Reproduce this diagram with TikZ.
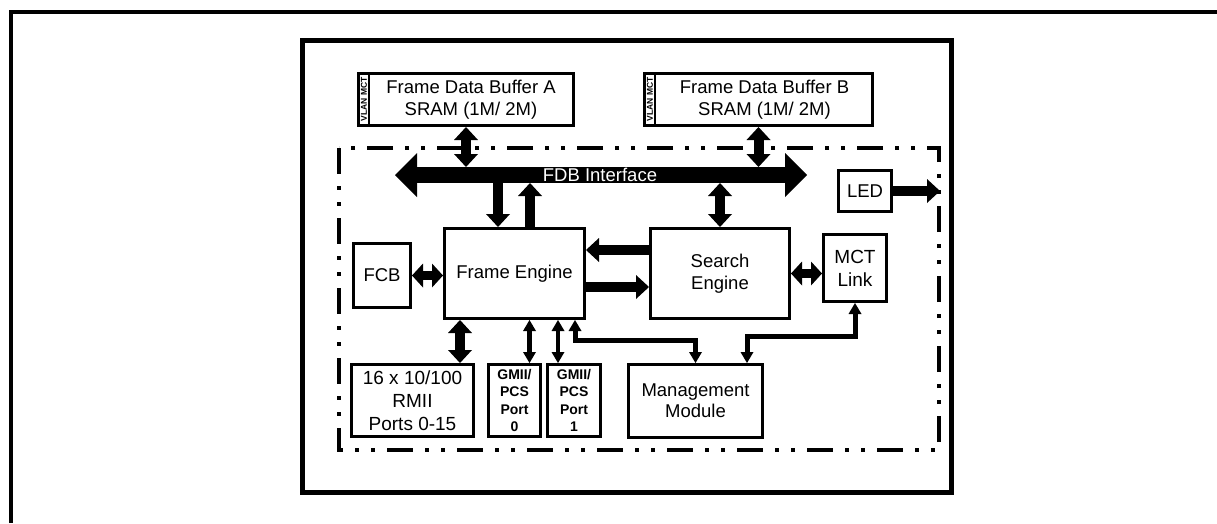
\documentclass[tikz,border=0pt]{standalone}
\usepackage{fontspec}
\setmainfont{Liberation Sans}
\usetikzlibrary{arrows.meta,calc}
\newcommand{\fsz}[2]{\fontsize{#1}{#2}\selectfont}
\begin{document}
\begin{tikzpicture}[x=1pt,y=-1pt,
  box/.style={draw, line width=3pt, fill=white, inner sep=0pt, align=center, font=\fsz{18.5}{22}},
  small/.style={box, font=\fsz{14}{17.5}\bfseries},
  txt/.style={inner sep=0pt, align=center, font=\fsz{18.5}{22}},
  vtxt/.style={inner sep=0pt, rotate=90, font=\fsz{8.5}{9}\bfseries},
  tipS/.tip={Triangle[width=24pt,length=13pt,line width=0pt]},
  tipM/.tip={Triangle[width=24pt,length=11pt,line width=0pt]},
  tipB/.tip={Triangle[width=44pt,length=22pt,line width=0pt]},
  tipT/.tip={Triangle[width=13pt,length=11pt,line width=0pt]},
  fat/.style={line width=10pt, arrows={-tipS}},
  fatboth/.style={line width=10pt, arrows={tipS-tipS}},
  fatshort/.style={line width=9pt, arrows={tipM-tipM}},
  busline/.style={line width=16pt, arrows={tipB-tipB}},
  thinboth/.style={line width=4.5pt, arrows={tipT-tipT}},
  elbow/.style={line width=5pt, arrows={tipT-tipT}},
  dashdot/.style={line width=3.5pt, dash pattern=on 26pt off 12pt on 4pt off 12pt on 4pt off 12pt}
]
\useasboundingbox (0,0) rectangle (1217,523);
% frames
\draw[line width=4pt] (10.5,523) -- (10.5,12) -- (1217,12);
\draw[line width=5pt] (302,40) rectangle (951,492);
\draw[dashdot] (339,148) rectangle (939,450);

% buffers
\node[box, minimum width=215pt, minimum height=52pt] (bufA) at (466,99.5) {};
\draw[line width=2pt] ($(bufA.north west)+(12,1.5)$) -- ($(bufA.south west)+(12,-1.5)$);
\node[vtxt] (vA) at ($(bufA.west)+(7,0)$) {VLAN MCT};
\node[txt] (tA) at ($(bufA.center)+(5,0)$) {Frame Data Buffer A\\SRAM (1M/ 2M)};

\node[box, minimum width=228pt, minimum height=52pt] (bufB) at (758.5,99.5) {};
\draw[line width=2pt] ($(bufB.north west)+(12,1.5)$) -- ($(bufB.south west)+(12,-1.5)$);
\node[vtxt] (vB) at ($(bufB.west)+(7,0)$) {VLAN MCT};
\node[txt] (tB) at ($(bufB.center)+(6,0)$) {Frame Data Buffer B\\SRAM (1M/ 2M)};

% bus
\coordinate (busL) at (395,175);
\coordinate (busR) at (807,175);
\coordinate (bt) at (0,167);
\coordinate (bb) at (0,183);
\draw[busline] (busL) -- (busR);
\node[txt, text=white] (fdb) at (600,175) {FDB Interface};

% blocks
\node[box, minimum width=140pt, minimum height=90pt] (FE) at (514.5,273.5) {Frame Engine};
\node[box, minimum width=57pt, minimum height=64pt] (FCB) at (382,275.5) {FCB};
\node[box, minimum width=139pt, minimum height=90pt] (SE) at (720,273.5) {Search\\Engine};
\node[box, minimum width=63pt, minimum height=67pt, font=\fsz{19}{23}] (MCT) at (855,268) {MCT\\Link};
\node[box, minimum width=53pt, minimum height=41pt] (LED) at (865,191) {LED};
\node[box, minimum width=122pt, minimum height=72pt, font=\fsz{19}{23}] (RMII) at (412.5,400.5) {16 x 10/100\\RMII\\Ports 0-15};
\node[small, minimum width=52pt, minimum height=72pt] (G0) at (514.5,400.5) {GMII/\\PCS\\Port\\0};
\node[small, minimum width=53pt, minimum height=72pt] (G1) at (574,400.5) {GMII/\\PCS\\Port\\1};
\node[box, minimum width=134pt, minimum height=73pt, font=\fsz{18.5}{21}] (MM) at (695.5,401) {Management\\Module};
\coordinate (ledout) at (940,191);

% connectors
\draw[fatboth] (bufA.south) -- (bufA.south |- bt);
\draw[fatboth] (bufB.south) -- (bufB.south |- bt);
\coordinate (feA) at ($(FE.north west)+(55,0)$);
\coordinate (feB) at ($(FE.north west)+(87,0)$);
\draw[fat] (feA |- bb) -- (feA);
\draw[fat] (feB) -- (feB |- bb);
\draw[fatboth] (SE.north) -- (SE.north |- bb);
\coordinate (seA) at ($(SE.north west)+(0,23)$);
\coordinate (seB) at ($(SE.north west)+(0,60)$);
\draw[fat] (seA) -- (seA -| FE.east);
\draw[fat] (seB -| FE.east) -- (seB);
\draw[fatshort] (FCB.east) -- (FCB.east -| FE.west);
\draw[fatshort] (SE.east) -- (SE.east -| MCT.west);
\draw[fat] (LED.east) -- (ledout);
\coordinate (feC) at ($(FE.south west)+(17,0)$);
\draw[fatboth] (feC) -- (feC |- RMII.north);
\coordinate (g0) at ($(G0.north)+(15,0)$);
\coordinate (g1) at ($(G1.north)+(-16,0)$);
\draw[thinboth] (g0 |- FE.south) -- (g0);
\draw[thinboth] (g1 |- FE.south) -- (g1);
\coordinate (feD) at ($(FE.south east)+(-11,0)$);
\draw[elbow] (feD) -- ++(0,20) -| (MM.north);
\coordinate (mmB) at ($(MM.north east)+(-17,0)$);
\draw[elbow] (MCT.south) -- ++(0,33) -| (mmB);
\end{tikzpicture}
\end{document}
